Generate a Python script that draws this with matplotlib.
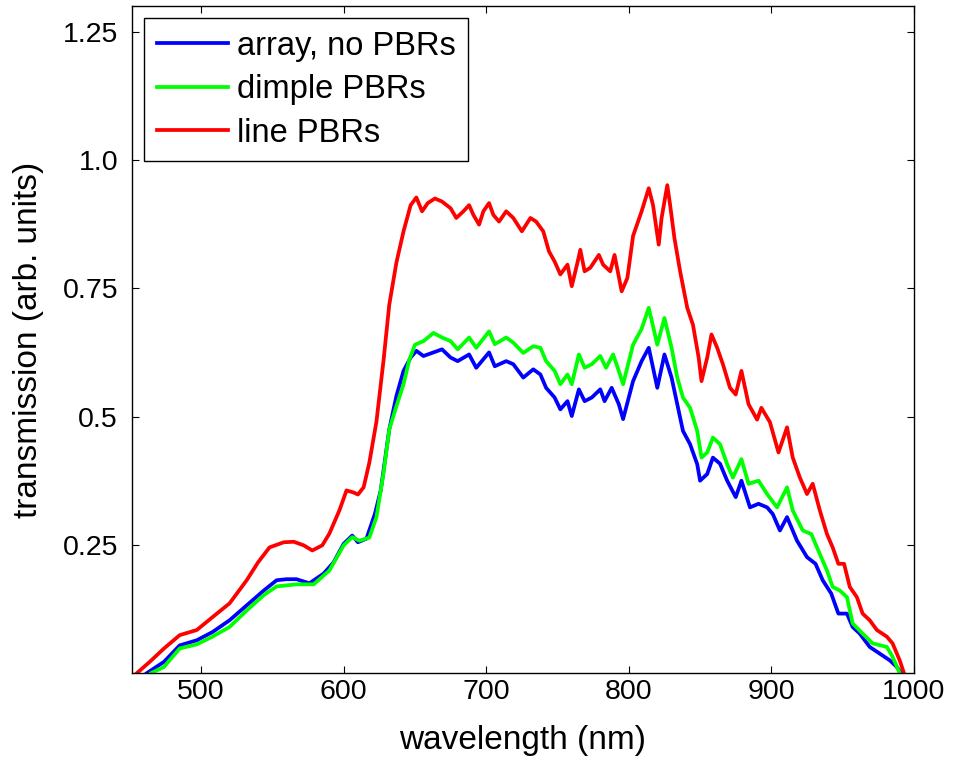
import matplotlib
matplotlib.use("Agg")
import matplotlib.pyplot as plt

# values
wl_blue = [462, 474, 485, 497, 508, 520, 532, 544, 553, 560, 567, 576, 586, 593, 600, 606, 610, 616, 622, 626,
           632, 637, 642, 647, 651, 656, 663, 669, 675, 680, 688, 693, 702, 706, 714, 719, 726, 733, 738, 742,
           748, 752, 757, 760, 765, 769, 774, 780, 783, 788, 793, 796, 803, 809, 814, 820, 825, 830, 834, 838,
           843, 848, 850, 855, 859, 864, 869, 875, 879, 885, 891, 897, 901, 906, 911, 918, 925, 931, 936, 942,
           947, 953, 957, 962, 969, 976, 983, 988, 991]
tr_blue = [0.0, 0.022, 0.054, 0.064, 0.080, 0.103, 0.132, 0.161, 0.181, 0.183, 0.183, 0.175, 0.194, 0.216, 0.252, 0.268, 0.255, 0.262, 0.311, 0.356,
           0.475, 0.540, 0.589, 0.615, 0.628, 0.618, 0.625, 0.631, 0.615, 0.608, 0.621, 0.595, 0.625, 0.598, 0.608, 0.602, 0.576, 0.592, 0.582, 0.556,
           0.537, 0.514, 0.530, 0.501, 0.553, 0.530, 0.537, 0.553, 0.530, 0.556, 0.524, 0.495, 0.569, 0.608, 0.634, 0.556, 0.621, 0.576, 0.524, 0.472,
           0.446, 0.407, 0.375, 0.388, 0.420, 0.408, 0.375, 0.343, 0.375, 0.323, 0.330, 0.323, 0.310, 0.278, 0.304, 0.258, 0.226, 0.213, 0.181, 0.155,
           0.116, 0.116, 0.090, 0.077, 0.051, 0.038, 0.025, 0.012, 0.0]

wl_green = [465, 474, 485, 497, 508, 520, 532, 544, 553, 567, 579, 590, 600, 606, 611, 618, 623, 628, 632, 637,
            642, 646, 650, 656, 663, 669, 675, 680, 688, 693, 702, 706, 714, 719, 726, 733, 738, 742, 748, 752,
            757, 760, 765, 769, 774, 780, 784, 789, 793, 796, 803, 809, 814, 820, 825, 830, 834, 838, 843, 848,
            851, 855, 859, 864, 869, 873, 879, 884, 891, 897, 904, 911, 915, 922, 928, 934, 939, 943, 948, 953,
            957, 964, 971, 981, 985, 990]
tr_green = [0.0, 0.012, 0.048, 0.056, 0.071, 0.090, 0.122, 0.152, 0.169, 0.173, 0.173, 0.200, 0.249, 0.265, 0.258, 0.264, 0.304, 0.390, 0.475, 0.520,
            0.563, 0.610, 0.640, 0.647, 0.663, 0.654, 0.647, 0.631, 0.654, 0.634, 0.666, 0.641, 0.654, 0.644, 0.624, 0.637, 0.634, 0.608, 0.589, 0.563,
            0.582, 0.563, 0.621, 0.595, 0.602, 0.618, 0.595, 0.621, 0.589, 0.563, 0.640, 0.671, 0.712, 0.640, 0.692, 0.634, 0.576, 0.537, 0.517, 0.472,
            0.420, 0.430, 0.459, 0.446, 0.407, 0.381, 0.417, 0.369, 0.375, 0.349, 0.323, 0.362, 0.317, 0.278, 0.271, 0.232, 0.200, 0.168, 0.161, 0.148,
            0.097, 0.077, 0.058, 0.051, 0.032, 0.0]

wl_red = [455, 464, 474, 485, 497, 508, 520, 532, 540, 548, 558, 565, 572, 578, 585, 590, 597, 602, 607, 610,
          614, 618, 623, 628, 632, 637, 642, 647, 651, 655, 659, 664, 669, 675, 679, 684, 688, 691, 695, 698,
          702, 705, 709, 714, 719, 725, 731, 735, 740, 744, 748, 752, 757, 760, 764, 766, 769, 773, 779, 782,
          787, 790, 795, 799, 803, 809, 814, 817, 821, 823, 827, 829, 832, 836, 841, 845, 849, 851, 855, 858,
          862, 866, 871, 875, 879, 884, 890, 893, 899, 905, 911, 915, 920, 925, 929, 934, 939, 943, 947, 951,
          955, 960, 964, 969, 974, 981, 985, 990, 993]
tr_red = [0.0, 0.022, 0.048, 0.074, 0.084, 0.109, 0.136, 0.181, 0.216, 0.245, 0.255, 0.256, 0.249, 0.239, 0.249, 0.272, 0.317, 0.356, 0.352, 0.348,
          0.362, 0.410, 0.490, 0.610, 0.718, 0.800, 0.861, 0.912, 0.927, 0.900, 0.916, 0.925, 0.919, 0.906, 0.887, 0.900, 0.912, 0.893, 0.874, 0.900,
          0.916, 0.893, 0.880, 0.900, 0.887, 0.861, 0.887, 0.880, 0.861, 0.822, 0.802, 0.777, 0.796, 0.754, 0.800, 0.825, 0.783, 0.790, 0.815, 0.796,
          0.783, 0.815, 0.744, 0.770, 0.852, 0.900, 0.945, 0.912, 0.835, 0.887, 0.951, 0.912, 0.848, 0.783, 0.712, 0.679, 0.615, 0.569, 0.615, 0.660,
          0.634, 0.602, 0.556, 0.543, 0.589, 0.524, 0.494, 0.517, 0.489, 0.430, 0.479, 0.420, 0.381, 0.349, 0.369, 0.317, 0.271, 0.245, 0.213, 0.213,
          0.168, 0.148, 0.116, 0.103, 0.084, 0.071, 0.058, 0.025, 0.0]

labels = ["array, no PBRs", "dimple PBRs", "line PBRs"]
xticks = [500, 600, 700, 800, 900, 1000]
yticks = [0.25, 0.5, 0.75, 1.0, 1.25]
ytick_labels = ["0.25", "0.5", "0.75", "1.0", "1.25"]

plt.rcParams["font.family"] = ["Liberation Sans", "DejaVu Sans"]
plt.rcParams["font.size"] = 20.5

fig = plt.figure(figsize=(9.56, 7.58), dpi=100)
ax = fig.add_axes([0.138, 0.112, 0.818, 0.880])

ax.plot(wl_blue, tr_blue, color="#0000ff", lw=2.7, label=labels[0])
ax.plot(wl_green, tr_green, color="#00ff00", lw=2.7, label=labels[1])
ax.plot(wl_red, tr_red, color="#ff0000", lw=2.7, label=labels[2])

ax.set_xlim(451.5, 1000)
ax.set_ylim(0, 1.3)
ax.set_xticks(xticks)
ax.set_yticks(yticks)
ax.set_yticklabels(ytick_labels)
ax.tick_params(direction="in", top=True, right=True, length=5, width=0.8)
ax.tick_params(axis="x", pad=4)
ax.tick_params(axis="y", pad=10)
for s in ax.spines.values():
    s.set_linewidth(1.0)

ax.set_xlabel("wavelength (nm)", fontsize=24, labelpad=15)
ax.set_ylabel("transmission (arb. units)", fontsize=24, labelpad=13)

leg = ax.legend(loc="upper left", fancybox=False, framealpha=1, edgecolor="black",
                handlelength=2.2, handletextpad=0.25, labelspacing=0.38,
                borderaxespad=0.375, borderpad=0.38, fontsize=23.5)
leg.get_frame().set_linewidth(1.0)

fig.savefig("out.png", dpi=100)
